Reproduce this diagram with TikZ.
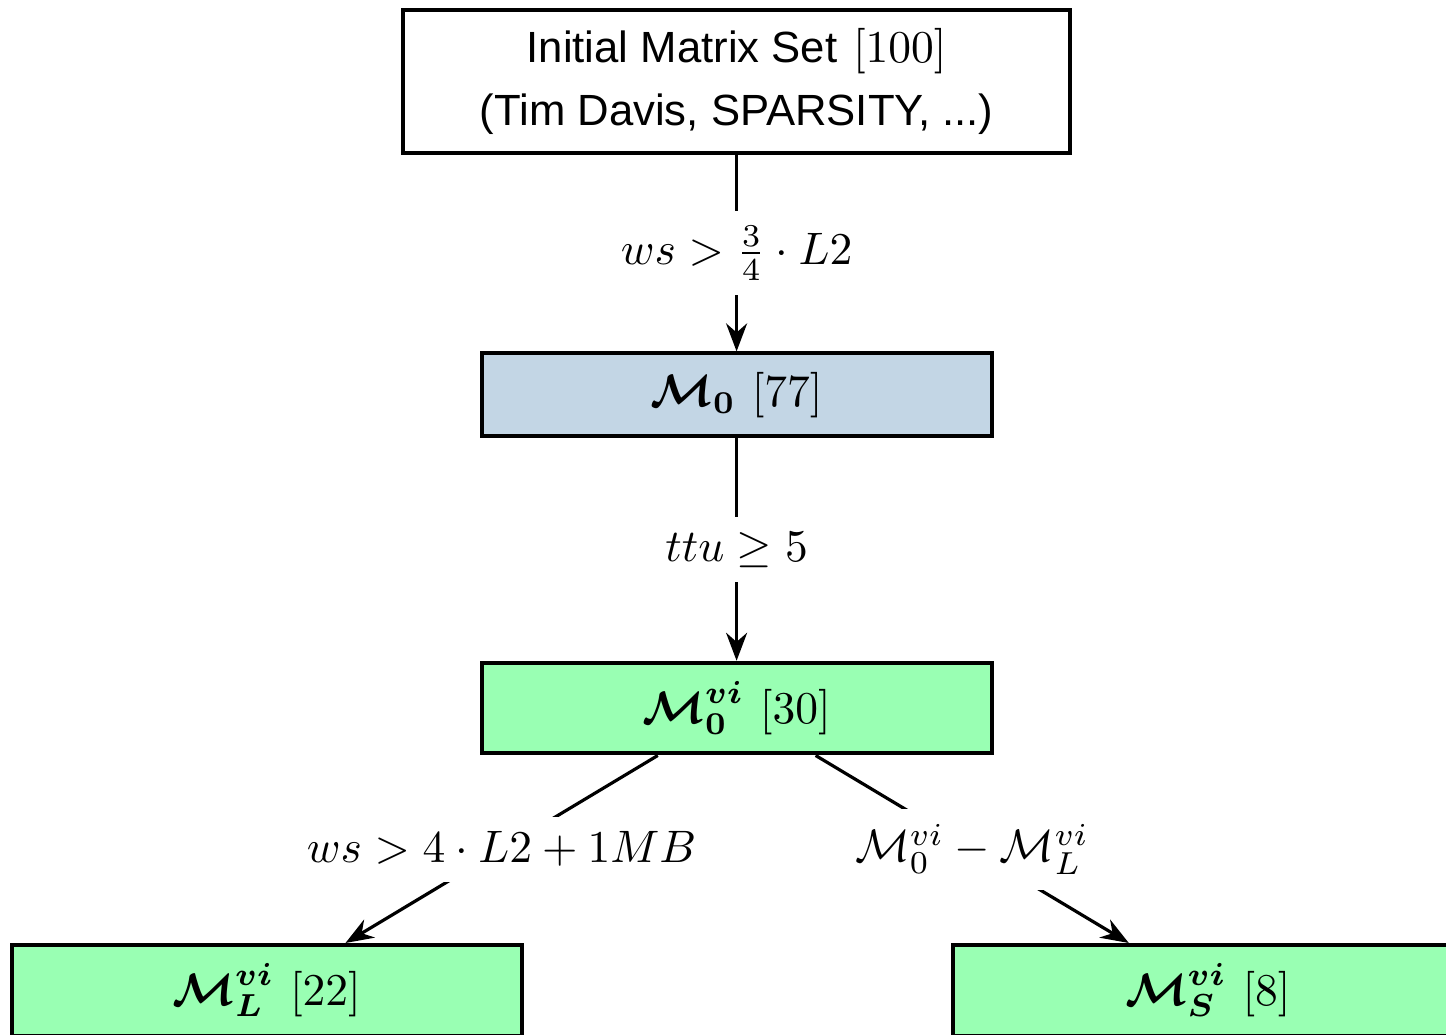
\documentclass[tikz,border=0pt]{standalone}
\usepackage{amsmath,amssymb,bm}
\usepackage{fontspec}
\newfontfamily\helvfont{Liberation Sans}
\usetikzlibrary{arrows.meta, positioning}
\definecolor{setblue}{HTML}{C3D6E5}
\definecolor{vigreen}{HTML}{99FFB3}

\begin{document}
\begin{tikzpicture}[line cap=butt, line join=miter,
    matbox/.style={draw=black, line width=0.9pt, minimum width=3.94cm, minimum height=0.70cm, inner sep=0pt, font=\fontsize{10.4}{12.7}\selectfont},
    flow/.style={-Stealth, line width=0.7pt},
    cond/.style={fill=white, font=\fontsize{10.4}{12.7}\selectfont}]
      \useasboundingbox (0,0) rectangle (11.17,-7.99);
      \clip (0,0) rectangle (11.17,-7.99);

      % Conjunto inicial
      \node[draw=black, line width=0.9pt, minimum width=5.15cm, minimum height=1.10cm, align=center, inner sep=0pt, font=\fontsize{10.4}{13.8}\selectfont] (init) at (5.69,-0.63)
        {{\helvfont\fontsize{9.6}{13.8}\selectfont Initial Matrix Set} $[100]$\\{\helvfont\fontsize{9.6}{13.8}\selectfont (Tim Davis, SPARSITY, ...)}};

      % Filtro por tamano
      \node[matbox, fill=setblue, minimum height=0.64cm] (M0) at (5.69,-3.05) {$\bm{\mathcal{M}_0}\ [77]$};

      % Filtro por ttu
      \node[matbox, fill=vigreen] (M0vi) at (5.69,-5.47) {$\bm{\mathcal{M}_0^{vi}}\ [30]$};

      % Grandes y pequenas
      \node[matbox, fill=vigreen] (MLvi) at (2.06,-7.65) {$\bm{\mathcal{M}_L^{vi}}\ [22]$};
      \node[matbox, fill=vigreen] (MSvi) at (9.33,-7.65) {$\bm{\mathcal{M}_S^{vi}}\ [8]$};

      \draw[flow] (init) -- node[cond] {$ws > \frac{3}{4}\cdot L2$} (M0);
      \draw[flow] (M0) -- node[cond] {$ttu \geq 5$} (M0vi);
      \draw[flow] (M0vi) -- node[cond] {$ws > 4\cdot L2 + 1MB$} (MLvi);
      \draw[flow] (M0vi) -- node[cond] {$\mathcal{M}_0^{vi} - \mathcal{M}_L^{vi}$} (MSvi);
    \end{tikzpicture}
\end{document}
